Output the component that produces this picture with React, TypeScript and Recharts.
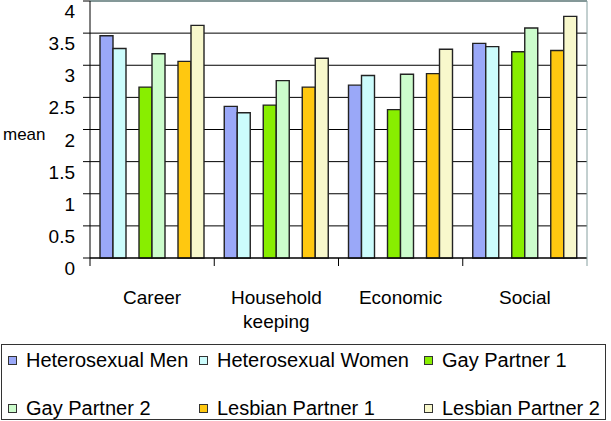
import React from "react";
import { BarChart, Bar, XAxis, YAxis, CartesianGrid, ReferenceLine, Label } from "recharts";

const FONT = "Arial, 'Liberation Sans', Helvetica, sans-serif";
const GRAY = "#86a0a0";

const categories = ["Career", "Household keeping", "Economic", "Social"];
const heteroMen = [3.46, 2.36, 2.69, 3.34];
const heteroWomen = [3.26, 2.26, 2.84, 3.29];
const gay1 = [2.66, 2.38, 2.31, 3.21];
const gay2 = [3.18, 2.76, 2.86, 3.58];
const lesbian1 = [3.06, 2.66, 2.87, 3.23];
const lesbian2 = [3.62, 3.11, 3.25, 3.76];
const yTicks = [0, 0.5, 1, 1.5, 2, 2.5, 3, 3.5, 4];

const series = [
  { key: "hm", name: "Heterosexual Men", color: "#9aa8f8", values: heteroMen },
  { key: "hw", name: "Heterosexual Women", color: "#ccfcfc", values: heteroWomen },
  { key: "g1", name: "Gay Partner 1", color: "#88ee00", values: gay1 },
  { key: "g2", name: "Gay Partner 2", color: "#ccfccc", values: gay2 },
  { key: "l1", name: "Lesbian Partner 1", color: "#ffc810", values: lesbian1 },
  { key: "l2", name: "Lesbian Partner 2", color: "#f8f8cc", values: lesbian2 },
];

const data = categories.map((c, i) => {
  const row: Record<string, any> = { name: c };
  series.forEach((s) => { row[s.key] = s.values[i]; });
  return row;
});

// bar order with empty slots between the pairs
const slots = ["hm", "hw", "gapA", "g1", "g2", "gapB", "l1", "l2"];

function YTick(props: any) {
  const { x, y, payload } = props;
  return (
    <text x={x - 6} y={y + 17} textAnchor="end" fontFamily={FONT} fontSize={19} fill="#000">
      {payload.value}
    </text>
  );
}

function XTick(props: any) {
  const { x, y, payload, index } = props;
  const half = payload.offset || 62;
  const lines = payload.value.length > 10 ? payload.value.split(" ") : [payload.value];
  return (
    <g>
      <line x1={x - half} x2={x - half} y1={y - 8} y2={y} stroke="#000" />
      {index === categories.length - 1 && (
        <line x1={x + half} x2={x + half} y1={y - 8} y2={y} stroke={GRAY} />
      )}
      <text x={x} y={y + 38} textAnchor="middle" fontFamily={FONT} fontSize={19} fill="#000">
        {lines.map((l: string, i: number) => (
          <tspan key={i} x={x} dy={i === 0 ? 0 : 24}>{l}</tspan>
        ))}
      </text>
    </g>
  );
}

function Legend() {
  const rows = [series.slice(0, 3), series.slice(3, 6)];
  const widths = [191, 225, 180];
  return (
    <div style={{
      position: "absolute", left: 1, top: 344, width: 603, height: 74,
      border: "1px solid #333", fontFamily: FONT, fontSize: 20, color: "#000",
    }}>
      {rows.map((r, ri) => (
        <div key={ri} style={{ position: "absolute", top: ri === 0 ? 3 : 51, left: 6, display: "flex", height: 24, alignItems: "center" }}>
          {r.map((s, i) => (
            <div key={s.key} style={{ width: widths[i], display: "flex", alignItems: "center", whiteSpace: "nowrap" }}>
              <span style={{ width: 7, height: 7, border: "1px solid #333", background: s.color, marginRight: 9, flex: "none" }} />
              <span>{s.name}</span>
            </div>
          ))}
        </div>
      ))}
    </div>
  );
}

export default function App() {
  return (
    <div style={{ position: "absolute", left: 0, top: 0, width: 611, height: 421, background: "#fff" }}>
      <BarChart
        width={611}
        height={340}
        data={data}
        margin={{ top: 1, right: 0, bottom: 0, left: 0 }}
        barCategoryGap={10}
        barGap={0}
      >
        <CartesianGrid yAxisId="left" vertical={false} stroke="#000" strokeWidth={1} />
        <XAxis
          dataKey="name"
          height={82}
          axisLine={{ stroke: "#000" }}
          tickLine={false}
          tick={<XTick />}
          interval={0}
        />
        <YAxis
          yAxisId="left"
          width={90}
          domain={[0, 4]}
          ticks={yTicks}
          interval={0}
          axisLine={{ stroke: "#000" }}
          tickLine={{ stroke: "#000" }}
          tickSize={7}
          tick={<YTick />}
        >
          <Label
            content={(p: any) => (
              <text x={3} y={p.viewBox.y + p.viewBox.height / 2 + 10} fontFamily={FONT} fontSize={17} fill="#000">mean</text>
            )}
          />
        </YAxis>
        <YAxis yAxisId="right" orientation="right" width={24} domain={[0, 4]} tick={false} tickLine={false} axisLine={{ stroke: GRAY }} />
        <ReferenceLine yAxisId="left" y={4} stroke={GRAY} strokeWidth={1.5} />
        {slots.map((k) => {
          const s = series.find((x) => x.key === k);
          return (
            <Bar
              key={k}
              yAxisId="left"
              dataKey={k}
              fill={s ? s.color : "none"}
              stroke={s ? "#222" : "none"}
              strokeWidth={1.4}
              legendType="none"
              isAnimationActive={false}
            />
          );
        })}
      </BarChart>
      <Legend />
    </div>
  );
}
